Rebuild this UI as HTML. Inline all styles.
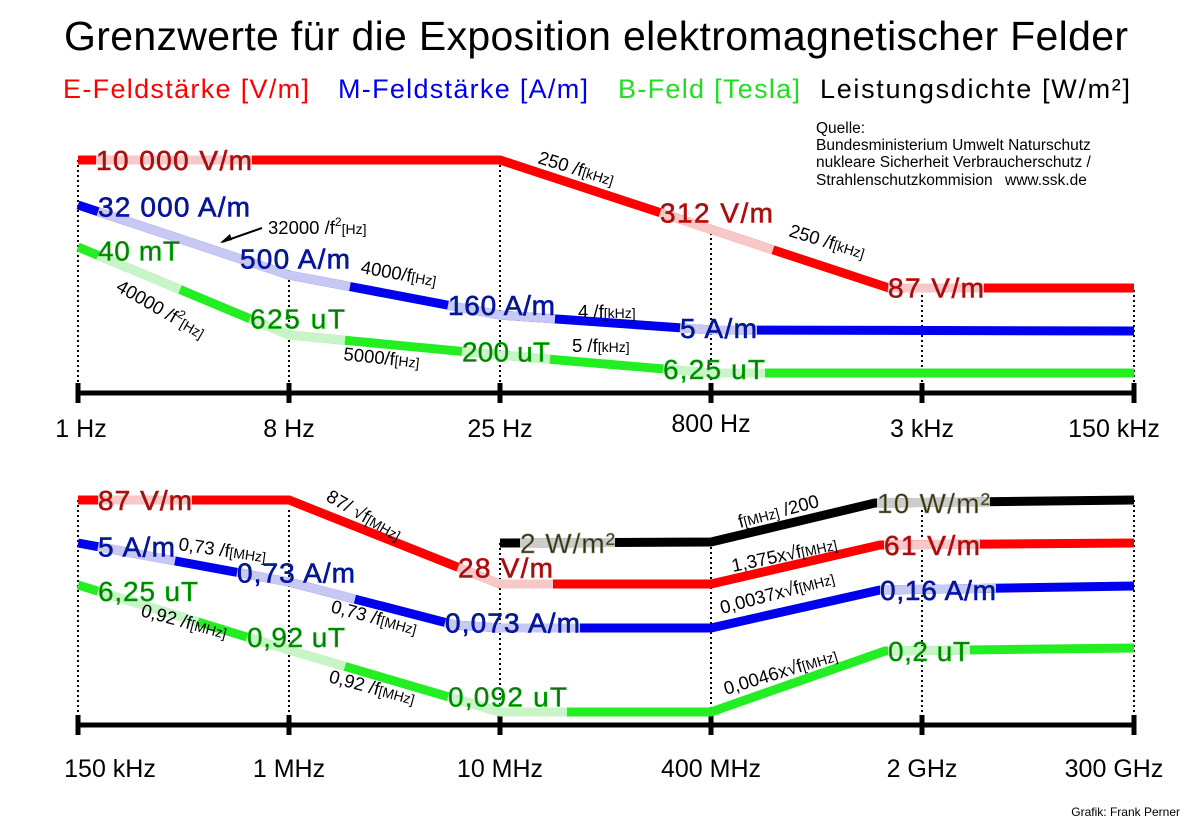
<!DOCTYPE html>
<html><head><meta charset="utf-8"><style>
html,body{margin:0;padding:0;background:#fff}
svg{display:block;font-family:"Liberation Sans",sans-serif}
</style></head><body>
<svg id="s" width="1200" height="834" viewBox="0 0 1200 834" xmlns="http://www.w3.org/2000/svg">
<text x="596" y="50" font-size="41" text-anchor="middle" textLength="1064">Grenzwerte für die Exposition elektromagnetischer Felder</text>
<text x="63" y="98" font-size="27" fill="#ff0000" textLength="246">E-Feldstärke [V/m]</text>
<text x="338" y="98" font-size="27" fill="#0000ee" textLength="250">M-Feldstärke [A/m]</text>
<text x="618" y="98" font-size="27" fill="#22dd22" textLength="182">B-Feld [Tesla]</text>
<text x="820" y="98" font-size="27" fill="#000" textLength="310">Leistungsdichte [W/m²]</text>
<g font-size="15.5">
<text x="816" y="133">Quelle:</text>
<text x="816" y="150">Bundesministerium Umwelt Naturschutz</text>
<text x="816" y="167">nukleare Sicherheit Verbraucherschutz /</text>
<text x="816" y="185">Strahlenschutzkommision</text>
<text x="1005" y="185">www.ssk.de</text>
</g>
<text x="1180" y="816" font-size="12" text-anchor="end">Grafik: Frank Perner</text>
<g id="g"></g>
</svg>
<script>
const g=document.getElementById('g');let h='';
const X=[78,289,500,711,922,1134];
function line(pts,c){h+=`<polyline points="${pts.map(p=>p.join(',')).join(' ')}" fill="none" stroke="${c}" stroke-width="9"/>`;}
function yAt(pts,x){for(let i=0;i<pts.length-1;i++){const a=pts[i],b=pts[i+1];if(x>=a[0]&&x<=b[0]){return a[1]+(b[1]-a[1])*(x-a[0])/(b[0]-a[0]);}}return pts[pts.length-1][1];}
function lab(pts,x1,x2,t,light,dark,stroke,dy){const seg=[];for(let x=x1;x<=x2;x+=4)seg.push([x,yAt(pts,x)]);seg.push([x2,yAt(pts,x2)]);
h+=`<polyline points="${seg.map(p=>p.join(',')).join(' ')}" fill="none" stroke="${light}" stroke-width="9"/>`;
const y=yAt(pts,x1)+(dy||10);h+=`<text x="${x1}" y="${y}" font-size="28" fill="${dark}" stroke="${stroke}" stroke-width="0.6" textLength="${x2-x1}">${t}</text>`;}
function f(x,y,r,t){h+=`<text transform="translate(${x},${y}) rotate(${r})" font-size="18.5">${t}</text>`;}
function dot(x,y1,y2){h+=`<line x1="${x}" y1="${y1}" x2="${x}" y2="${y2}" stroke="#000" stroke-width="2" stroke-dasharray="2,3"/>`;}
function axis(y){h+=`<line x1="78" y1="${y}" x2="1134" y2="${y}" stroke="#000" stroke-width="5"/>`;X.forEach(x=>h+=`<line x1="${x}" y1="${y-10}" x2="${x}" y2="${y+10}" stroke="#000" stroke-width="5"/>`);}
[[78,160],[289,270],[500,160],[711,228],[922,290],[1134,290]].forEach(d=>dot(d[0],d[1],393));
axis(393);
const R1=[[78,160],[500,160],[889,288],[1134,288]];
const B1=[[78,205],[289,275],[500,315],[711,330],[1134,331]];
const G1=[[78,247],[289,335],[500,355],[711,373],[1134,373]];
line(R1,'#ff0000');line(B1,'#0000ee');line(G1,'#22ee22');
lab(R1,96,252,'10 000 V/m','#f8c8c8','#8b1a1a','#d00');
lab(R1,660,773,'312 V/m','#f8c8c8','#8b1a1a','#d00');
lab(R1,888,984,'87 V/m','#f8c8c8','#8b1a1a','#d00');
lab(B1,98,250,'32 000 A/m','#c8c8f4','#00207a','#00c',5);
lab(B1,240,350,'500 A/m','#c8c8f4','#00207a','#00c');
lab(B1,448,555,'160 A/m','#c8c8f4','#00207a','#00c');
lab(B1,680,757,'5 A/m','#c8c8f4','#00207a','#00c');
lab(G1,98,180,'40 mT','#c8f4c8','#107010','#0c0',5);
lab(G1,250,345,'625 uT','#c8f4c8','#107010','#0c0');
lab(G1,462,550,'200 uT','#c8f4c8','#107010','#0c0');
lab(G1,663,765,'6,25 uT','#c8f4c8','#107010','#0c0');
f(537,163,17,'250 /f<tspan font-size="14">[kHz]</tspan>');
f(788,236,17,'250 /f<tspan font-size="14">[kHz]</tspan>');
f(268,234,0,'32000 /f<tspan font-size="12" dy="-8">2</tspan><tspan font-size="14" dy="8">[Hz]</tspan>');
h+='<line x1="262" y1="228" x2="222" y2="242" stroke="#000" stroke-width="2"/><path d="M220,243 l10,-9 l2,6z" fill="#000"/>';
f(360,273,10,'4000/f<tspan font-size="14">[Hz]</tspan>');
f(115,290,30,'40000 /f<tspan font-size="12" dy="-8">2</tspan><tspan font-size="14" dy="8">[Hz]</tspan>');
f(343,360,6,'5000/f<tspan font-size="14">[Hz]</tspan>');
f(578,318,0,'4 /f<tspan font-size="14">[kHz]</tspan>');
f(572,352,0,'5 /f<tspan font-size="14">[kHz]</tspan>');
[[78,500],[289,510],[500,543],[711,542],[922,500],[1134,500]].forEach(d=>dot(d[0],d[1],725));
axis(725);
const R2=[[78,500],[289,500],[500,584],[711,584],[880,545],[1134,543]];
const B2=[[78,543],[289,582],[455,625],[500,628],[711,628],[880,590],[1134,586]];
const G2=[[78,585],[289,650],[500,712],[711,712],[885,651],[1134,648]];
const K2=[[500,543],[711,542],[875,503],[1134,500]];
line(R2,'#ff0000');line(B2,'#0000ee');line(G2,'#22ee22');line(K2,'#000');
lab(R2,98,192,'87 V/m','#f8c8c8','#8b1a1a','#d00');
lab(R2,458,553,'28 V/m','#f8c8c8','#8b1a1a','#d00');
lab(R2,884,980,'61 V/m','#f8c8c8','#8b1a1a','#d00');
lab(B2,98,175,'5 A/m','#c8c8f4','#00207a','#00c');
lab(B2,237,355,'0,73 A/m','#c8c8f4','#00207a','#00c');
lab(B2,445,580,'0,073 A/m','#c8c8f4','#00207a','#00c');
lab(B2,880,996,'0,16 A/m','#c8c8f4','#00207a','#00c');
lab(G2,98,198,'6,25 uT','#c8f4c8','#107010','#0c0');
lab(G2,247,345,'0,92 uT','#c8f4c8','#107010','#0c0');
lab(G2,448,567,'0,092 uT','#c8f4c8','#107010','#0c0');
lab(G2,888,970,'0,2 uT','#c8f4c8','#107010','#0c0');
lab(K2,520,615,'2 W/m²','#ccc','#333300','#999');
lab(K2,877,990,'10 W/m²','#ccc','#333300','#999');
f(178,550,8,'0,73 /f<tspan font-size="14">[MHz]</tspan>');
f(325,500,30,'87/ √f<tspan font-size="14">[MHz]</tspan>');
f(140,616,15,'0,92 /f<tspan font-size="14">[MHz]</tspan>');
f(330,612,15,'0,73 /f<tspan font-size="14">[MHz]</tspan>');
f(328,682,15,'0,92 /f<tspan font-size="14">[MHz]</tspan>');
f(740,528,-15,'f<tspan font-size="14">[MHz]</tspan> /200');
f(733,572,-12,'1,375x√f<tspan font-size="14">[MHz]</tspan>');
f(722,614,-15,'0,0037x√f<tspan font-size="14">[MHz]</tspan>');
f(726,695,-17,'0,0046x√f<tspan font-size="14">[MHz]</tspan>');
const T1=['1 Hz','8 Hz','25 Hz','800 Hz','3 kHz','150 kHz'],T2=['150 kHz','1 MHz','10 MHz','400 MHz','2 GHz','300 GHz'];
X.forEach((x,i)=>{h+=`<text x="${i==0?x+3:i==5?x-20:x}" y="${i==3?432:437}" font-size="25" text-anchor="middle">${T1[i]}</text>`;
h+=`<text x="${i==0?x+32:i==5?x-20:x}" y="777" font-size="25" text-anchor="middle">${T2[i]}</text>`;});
g.innerHTML=h;
</script>
</body></html>
